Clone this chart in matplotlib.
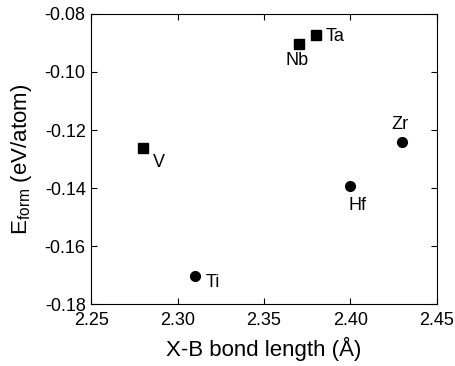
import matplotlib
matplotlib.use("Agg")
import matplotlib.pyplot as plt

plt.rcParams['font.family'] = ['Liberation Sans', 'DejaVu Sans']
plt.rcParams['mathtext.fontset'] = 'custom'
plt.rcParams['mathtext.rm'] = 'Liberation Sans'

# bond length (A) and formation energy (eV/atom)
sq_names = ["V", "Nb", "Ta"]
sq_x = [2.28, 2.37, 2.38]
sq_y = [-0.1263, -0.0902, -0.0873]

ci_names = ["Ti", "Hf", "Zr"]
ci_x = [2.31, 2.40, 2.43]
ci_y = [-0.1702, -0.1392, -0.1240]

# label offsets in points (dx, dy, ha, va)
offsets = {
    "V": (7, -4, "left", "top"),
    "Nb": (-1, -6, "center", "top"),
    "Ta": (7, -1, "left", "center"),
    "Ti": (8, -5, "left", "center"),
    "Hf": (5, -8, "center", "top"),
    "Zr": (-2, 6, "center", "bottom"),
}

fig = plt.figure(figsize=(4.56, 3.66), dpi=100)
ax = fig.add_axes([0.2, 0.169, 0.758, 0.793])

ax.plot(sq_x, sq_y, "s", color="black", markersize=7, linestyle="none")
ax.plot(ci_x, ci_y, "o", color="black", markersize=7, linestyle="none")

for names, xs, ys in [(sq_names, sq_x, sq_y), (ci_names, ci_x, ci_y)]:
    for n, x, y in zip(names, xs, ys):
        dx, dy, ha, va = offsets[n]
        ax.annotate(n, (x, y), xytext=(dx, dy), textcoords="offset points",
                    ha=ha, va=va, fontsize=13)

ax.set_xlim(2.25, 2.45)
ax.set_ylim(-0.18, -0.08)
ax.set_xticks([2.25, 2.30, 2.35, 2.40, 2.45])
ax.set_yticks([-0.18, -0.16, -0.14, -0.12, -0.10, -0.08])
ax.xaxis.set_major_formatter(matplotlib.ticker.FormatStrFormatter("%.2f"))
ax.yaxis.set_major_formatter(matplotlib.ticker.FormatStrFormatter("%.2f"))
ax.tick_params(direction="in", top=True, right=True, labelsize=13, length=4)
ax.tick_params(axis="x", pad=6)
ax.tick_params(axis="y", pad=4)

ax.set_xlabel("X-B bond length (Å)", fontsize=16, labelpad=5)
ax.set_ylabel(r"E$_{\mathrm{form}}$ (eV/atom)", fontsize=16, labelpad=8)

fig.savefig("out.png", dpi=100)
